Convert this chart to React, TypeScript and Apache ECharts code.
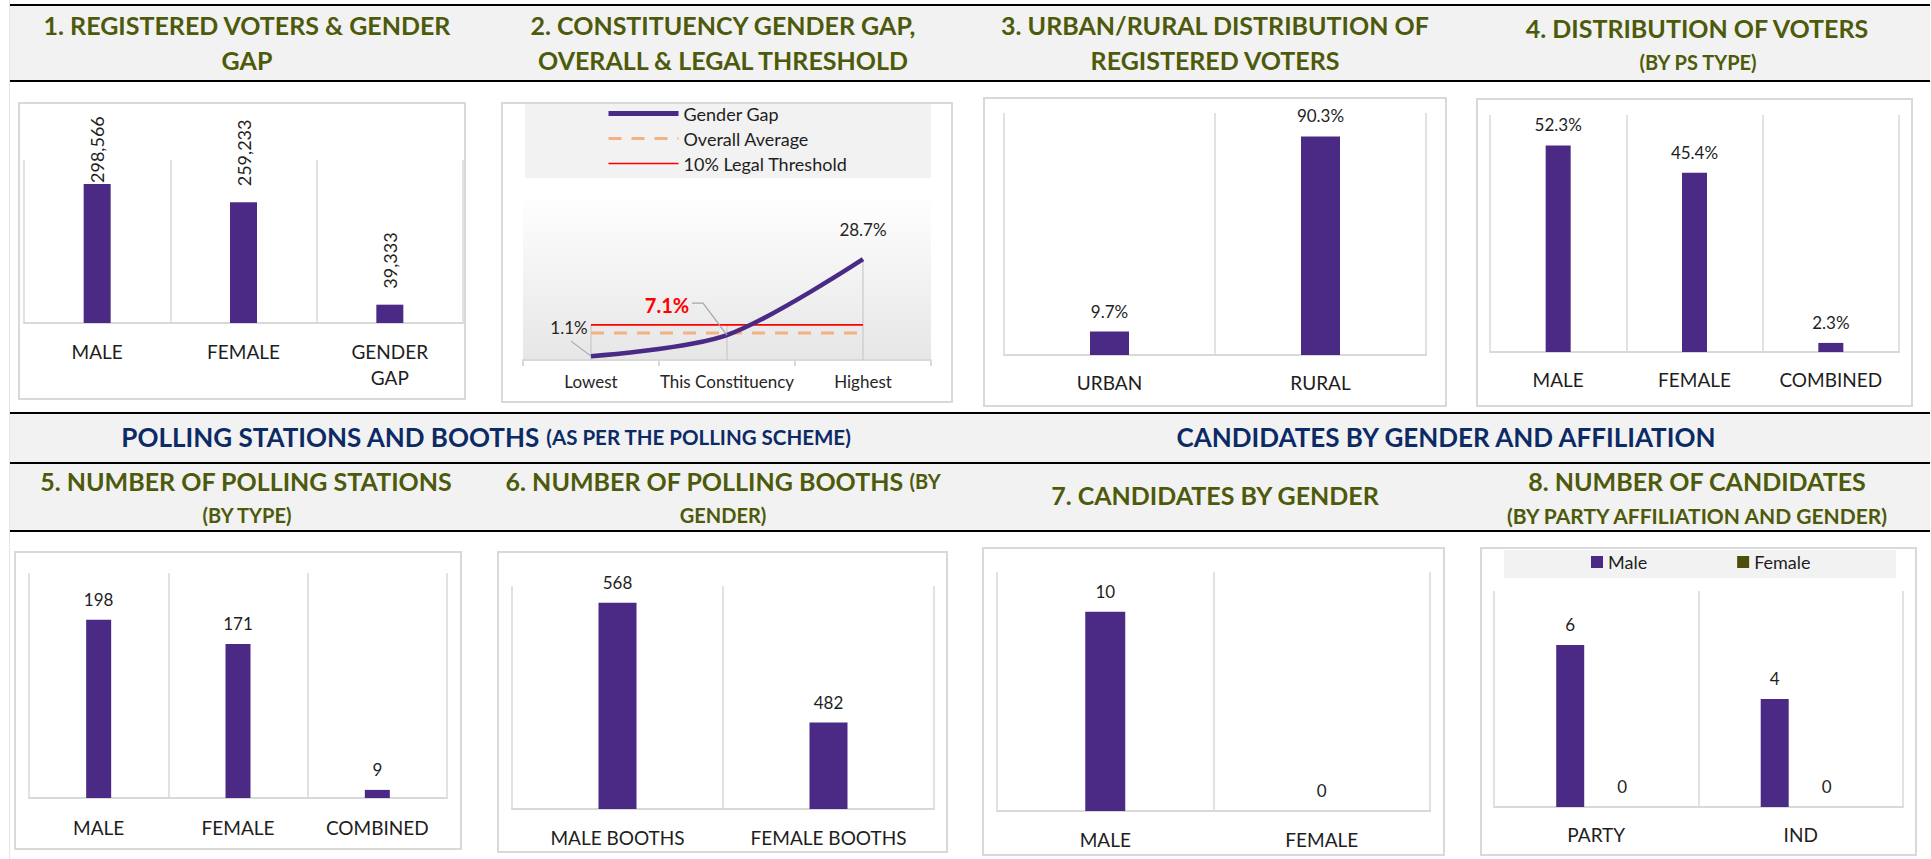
import React, { useEffect, useRef } from "react";
import * as echarts from "echarts";

// ---------------- DATA ----------------
const p1Categories = ["MALE", "FEMALE", "GENDER\nGAP"];
const p1Values = [298566, 259233, 39333];

const p2Categories = ["Lowest", "This Constituency", "Highest"];
const p2GenderGap = [1.1, 7.1, 28.7];
const p2OverallAverage = [7.7, 7.7, 7.7];
const p2LegalThreshold = [10, 10, 10];

const p3Categories = ["URBAN", "RURAL"];
const p3Values = [9.7, 90.3];

const p4Categories = ["MALE", "FEMALE", "COMBINED"];
const p4Values = [52.3, 45.4, 2.3];

const p5Categories = ["MALE", "FEMALE", "COMBINED"];
const p5Values = [198, 171, 9];

const p6Categories = ["MALE BOOTHS", "FEMALE BOOTHS"];
const p6Values = [568, 482];

const p7Categories = ["MALE", "FEMALE"];
const p7Values = [10, 0];

const p8Categories = ["PARTY", "IND"];
const p8Male = [6, 4];
const p8Female = [0, 0];

// ---------------- STYLE / LAYOUT ----------------
const PURPLE = "#4a2a84";
const OLIVE = "#4e5a0b";
const FEMALE_OLIVE = "#4c4f0c";
const NAVY = "#0b2a66";
const GRIDLINE = "#d9d9d9";
const TEXT = "#1e1e1e";
const FONT = "Lato, 'Open Sans', sans-serif";

const grids = [
  { left: 24, top: 160, width: 439, height: 163 },
  { left: 523, top: 202, width: 408, height: 158 },
  { left: 1004, top: 113, width: 422, height: 242 },
  { left: 1490, top: 115, width: 409, height: 237 },
  { left: 29, top: 573, width: 418, height: 225 },
  { left: 512, top: 586, width: 422, height: 223 },
  { left: 997, top: 572, width: 433, height: 239 },
  { left: 1494, top: 591, width: 409, height: 216 },
];

const boxes = [
  [19, 103, 446, 296],
  [502, 103, 450, 299],
  [984, 98, 462, 308],
  [1477, 99, 435, 307],
  [15, 552, 446, 297],
  [498, 552, 449, 300],
  [983, 548, 461, 307],
  [1481, 548, 435, 307],
];

type TitleSpec = { text: string; x: number; y: number; size: number; small?: number; color?: string; rich?: boolean };
const titleTexts: TitleSpec[] = [
  { text: "1. REGISTERED VOTERS & GENDER", x: 247, y: 25, size: 25 },
  { text: "GAP", x: 247, y: 60, size: 25 },
  { text: "2. CONSTITUENCY GENDER GAP,", x: 723, y: 25, size: 25 },
  { text: "OVERALL & LEGAL THRESHOLD", x: 723, y: 60, size: 25 },
  { text: "3. URBAN/RURAL DISTRIBUTION OF", x: 1215, y: 25, size: 25 },
  { text: "REGISTERED VOTERS", x: 1215, y: 60, size: 25 },
  { text: "4. DISTRIBUTION OF VOTERS", x: 1697, y: 28, size: 25 },
  { text: "(BY PS TYPE)", x: 1698, y: 62, size: 20 },
  { text: "5. NUMBER OF POLLING STATIONS", x: 246, y: 481, size: 25 },
  { text: "(BY TYPE)", x: 247, y: 515, size: 20 },
  { text: "{a|6. NUMBER OF POLLING BOOTHS }{b|(BY}", x: 723, y: 481, size: 25, small: 20, rich: true },
  { text: "GENDER)", x: 723, y: 515, size: 20 },
  { text: "7. CANDIDATES BY GENDER", x: 1215, y: 495, size: 25 },
  { text: "8. NUMBER OF CANDIDATES", x: 1697, y: 481, size: 25 },
  { text: "(BY PARTY AFFILIATION AND GENDER)", x: 1697, y: 515, size: 21 },
  { text: "{a|POLLING STATIONS AND BOOTHS }{b|(AS PER THE POLLING SCHEME)}", x: 486, y: 437, size: 26, small: 20.5, color: NAVY, rich: true },
  { text: "CANDIDATES BY GENDER AND AFFILIATION", x: 1446, y: 437, size: 26, color: NAVY },
];

// label offsets for the gender gap annotations (relative to the point)
const p2Annot = [
  { dx: -22, dy: -29, color: "#262626", weight: "normal", size: 17, leader: [[-20, -15]] },
  { dx: -60, dy: -30, color: "#ff0000", weight: "bold", size: 20, leader: [[-35, -32], [-24, -32]] },
  { dx: 0, dy: -30, color: "#262626", weight: "normal", size: 17, leader: [] as number[][] },
];

function catAxis(gridIndex: number, data: string[], margin: number) {
  return {
    type: "category",
    gridIndex,
    data,
    axisLine: { show: true, lineStyle: { color: GRIDLINE, width: 2 } },
    axisTick: { show: false },
    splitLine: { show: true, interval: 0, lineStyle: { color: GRIDLINE, width: 1.5 } },
    axisLabel: { interval: 0, margin, color: TEXT, fontFamily: FONT, fontSize: 19, lineHeight: 26 },
  };
}

function valAxis(gridIndex: number, min: number, max: number) {
  return { type: "value", gridIndex, min, max, show: false, splitLine: { show: false } };
}

const valueLabel = (fmt: (v: number) => string) => ({
  show: true,
  position: "top",
  distance: 12,
  color: TEXT,
  fontFamily: FONT,
  fontSize: 17,
  formatter: (p: any) => fmt(p.value),
});

function barSeries(idx: number, name: string, data: any[], barWidth: number, fmt: (v: number) => string, color = PURPLE) {
  return {
    type: "bar",
    name,
    xAxisIndex: idx,
    yAxisIndex: idx,
    data,
    barWidth,
    clip: true,
    silent: true,
    itemStyle: { color },
    label: valueLabel(fmt),
  };
}

const pct = (v: number) => v.toFixed(1) + "%";
const int = (v: number) => String(v);

export default function App() {
  const ref = useRef<HTMLDivElement>(null);

  useEffect(() => {
    if (!ref.current) return;
    const chart = echarts.init(ref.current, null, { renderer: "svg" });

    const graphic: any[] = [];
    graphic.push({ type: "line", z: -20, shape: { x1: 9.5, y1: 0, x2: 9.5, y2: 859 }, style: { stroke: "#e6e6e6", lineWidth: 1 } });
    [[6, 74], [414, 48], [464, 66]].forEach(([y, h]) =>
      graphic.push({ type: "rect", z: -20, shape: { x: 10, y, width: 1920, height: h }, style: { fill: "#f2f2f2" } })
    );
    [4, 80, 412, 462, 530].forEach((y) =>
      graphic.push({ type: "rect", z: -19, shape: { x: 10, y, width: 1920, height: 2 }, style: { fill: "#000" } })
    );
    boxes.forEach(([x, y, w, h]) =>
      graphic.push({ type: "rect", z: -18, shape: { x, y, width: w, height: h }, style: { fill: "#fff", stroke: GRIDLINE, lineWidth: 2 } })
    );
    graphic.push({ type: "rect", z: -17, shape: { x: 525, y: 104, width: 406, height: 74 }, style: { fill: "#f2f2f2" } });
    graphic.push({ type: "rect", z: -17, shape: { x: 1504, y: 550, width: 392, height: 28 }, style: { fill: "#f2f2f2" } });
    graphic.push({
      type: "rect",
      z: -17,
      shape: { x: 523, y: 200, width: 408, height: 160 },
      style: {
        fill: new echarts.graphic.LinearGradient(0, 0, 0, 1, [
          { offset: 0, color: "#fefefe" },
          { offset: 1, color: "#e6e6e6" },
        ]),
      },
    });
    titleTexts.forEach((t) => {
      const color = t.color || OLIVE;
      graphic.push({
        type: "text",
        z: 10,
        style: {
          text: t.text,
          x: t.x,
          y: t.y,
          align: "center",
          verticalAlign: "middle",
          fill: color,
          fontFamily: FONT,
          fontWeight: "bold",
          fontSize: t.size,
          rich: t.rich
            ? {
                a: { fontFamily: FONT, fontWeight: "bold", fontSize: t.size, fill: color },
                b: { fontFamily: FONT, fontWeight: "bold", fontSize: t.small || 20, fill: color },
              }
            : undefined,
        },
      });
    });

    const p1Data = p1Values.map((v, i) => (i === 0 ? { value: v, label: { distance: 1 } } : v));
    const hiddenSymbol = { opacity: 0, color: "transparent", borderWidth: 0 };

    const option: any = {
      animation: false,
      backgroundColor: "#ffffff",
      textStyle: { fontFamily: FONT },
      grid: grids.map((g) => ({ ...g, containLabel: false })),
      legend: [
        {
          data: [
            { name: "Gender Gap", itemStyle: hiddenSymbol, lineStyle: { color: PURPLE, width: 5 } },
            { name: "Overall Average", itemStyle: hiddenSymbol, lineStyle: { color: "#f4b183", width: 3, type: [13, 10] } },
            { name: "10% Legal Threshold", itemStyle: hiddenSymbol, lineStyle: { color: "#ff0000", width: 1.6 } },
          ],
          orient: "vertical",
          left: 606,
          top: 104,
          padding: 0,
          itemWidth: 70,
          itemHeight: 19,
          itemGap: 6,
          selectedMode: false,
          itemStyle: hiddenSymbol,
          textStyle: { fontFamily: FONT, fontSize: 18, color: TEXT, lineHeight: 19 },
        },
        {
          data: [
            { name: "Male", icon: "rect" },
            { name: "Female", icon: "rect" },
          ],
          orient: "horizontal",
          left: 1591,
          top: 553,
          padding: 0,
          itemWidth: 12,
          itemHeight: 12,
          itemGap: 90,
          selectedMode: false,
          textStyle: { fontFamily: FONT, fontSize: 18, color: TEXT },
        },
      ],
      xAxis: [
        catAxis(0, p1Categories, 15),
        {
          type: "category",
          gridIndex: 1,
          data: p2Categories,
          axisLine: { show: true, lineStyle: { color: GRIDLINE, width: 2 } },
          axisTick: { show: true, interval: 0, length: 6, lineStyle: { color: GRIDLINE, width: 2 } },
          splitLine: { show: false },
          axisLabel: { interval: 0, margin: 13, color: "#262626", fontFamily: FONT, fontSize: 17 },
        },
        catAxis(2, p3Categories, 14),
        catAxis(3, p4Categories, 14),
        catAxis(4, p5Categories, 16),
        catAxis(5, p6Categories, 15),
        catAxis(6, p7Categories, 15),
        catAxis(7, p8Categories, 14),
      ],
      yAxis: [
        valAxis(0, 0, 350000),
        valAxis(1, 0, 45),
        valAxis(2, 0, 100),
        valAxis(3, 0, 60),
        valAxis(4, 0, 250),
        valAxis(5, 420, 580),
        valAxis(6, 0, 12),
        valAxis(7, 0, 8),
      ],
      series: [
        {
          type: "bar",
          name: "Registered voters",
          xAxisIndex: 0,
          yAxisIndex: 0,
          data: p1Data,
          barWidth: 27,
          silent: true,
          itemStyle: { color: PURPLE },
          label: {
            show: true,
            position: "top",
            rotate: 90,
            align: "left",
            verticalAlign: "middle",
            distance: 16,
            color: TEXT,
            fontFamily: FONT,
            fontSize: 18,
            formatter: (p: any) => Number(p.value).toLocaleString("en-US"),
          },
        },
        {
          type: "custom",
          name: "drop lines",
          xAxisIndex: 1,
          yAxisIndex: 1,
          silent: true,
          z: 1,
          data: p2Categories.map((_, i) => [i, Math.max(p2GenderGap[i], p2OverallAverage[i], p2LegalThreshold[i])]),
          encode: { x: 0, y: 1 },
          renderItem: (params: any, api: any) => {
            const top = api.coord([api.value(0), api.value(1)]);
            const bottom = api.coord([api.value(0), 0]);
            return {
              type: "line",
              shape: { x1: top[0], y1: top[1], x2: bottom[0], y2: bottom[1] },
              style: { stroke: "#c9c9c9", lineWidth: 1.2 },
            };
          },
        },
        {
          type: "line",
          name: "10% Legal Threshold",
          xAxisIndex: 1,
          yAxisIndex: 1,
          data: p2LegalThreshold,
          symbol: "none",
          silent: true,
          z: 2,
          itemStyle: { color: "#ff0000" },
          lineStyle: { color: "#ff0000", width: 1.6 },
        },
        {
          type: "line",
          name: "Overall Average",
          xAxisIndex: 1,
          yAxisIndex: 1,
          data: p2OverallAverage,
          symbol: "none",
          silent: true,
          z: 2,
          itemStyle: { color: "#f4b183" },
          lineStyle: { color: "#f4b183", width: 3, type: [13, 10] },
        },
        {
          type: "line",
          name: "Gender Gap",
          xAxisIndex: 1,
          yAxisIndex: 1,
          data: p2GenderGap,
          symbol: "none",
          smooth: 0.3,
          silent: true,
          z: 3,
          itemStyle: { color: PURPLE },
          lineStyle: { color: PURPLE, width: 4.5 },
        },
        {
          type: "custom",
          name: "gap labels",
          xAxisIndex: 1,
          yAxisIndex: 1,
          silent: true,
          z: 4,
          data: p2GenderGap.map((v, i) => [i, v]),
          encode: { x: 0, y: 1 },
          renderItem: (params: any, api: any) => {
            const i = params.dataIndex;
            const v = api.value(1);
            const p = api.coord([api.value(0), v]);
            const a = p2Annot[i];
            const children: any[] = [];
            if (a.leader.length) {
              children.push({
                type: "polyline",
                shape: { points: [...a.leader.map(([dx, dy]) => [p[0] + dx, p[1] + dy]), [p[0], p[1]]] },
                style: { stroke: "#a6a6a6", lineWidth: 1.2, fill: null },
              });
            }
            children.push({
              type: "text",
              style: {
                text: Number(v).toFixed(1) + "%",
                x: p[0] + a.dx,
                y: p[1] + a.dy,
                align: "center",
                verticalAlign: "middle",
                fill: a.color,
                fontFamily: FONT,
                fontWeight: a.weight,
                fontSize: a.size,
              },
            });
            return { type: "group", children };
          },
        },
        barSeries(2, "Urban/Rural", p3Values, 39, pct),
        barSeries(3, "PS type", p4Values, 25, pct),
        barSeries(4, "Polling stations", p5Values, 25, int),
        barSeries(5, "Polling booths", p6Values, 38, int),
        barSeries(6, "Candidates", p7Values, 40, int),
        { ...barSeries(7, "Male", p8Male, 28, int), barGap: "86%" },
        { ...barSeries(7, "Female", p8Female, 28, int, FEMALE_OLIVE), barGap: "86%" },
      ],
      graphic: { elements: graphic },
    };

    chart.setOption(option);
    return () => chart.dispose();
  }, []);

  return (
    <div
      ref={ref}
      style={{ position: "absolute", left: 0, top: 0, width: 1931, height: 859, background: "#fff" }}
    />
  );
}
